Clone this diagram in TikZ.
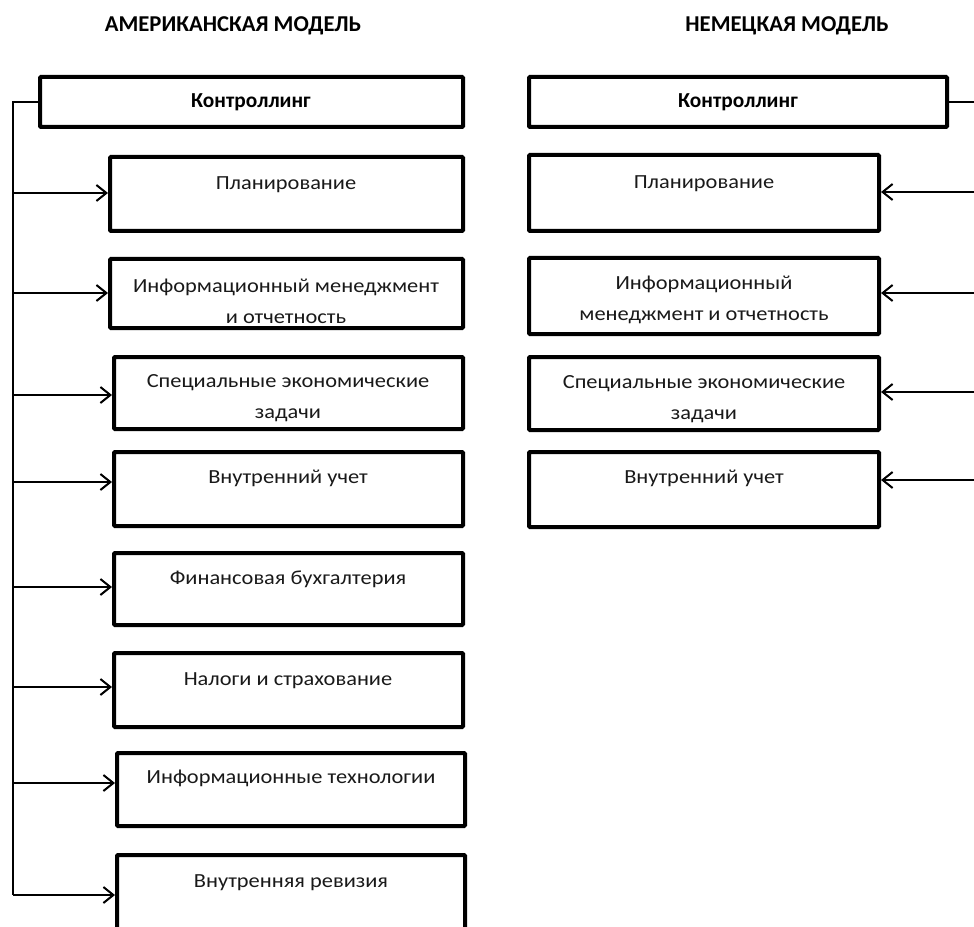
\documentclass[tikz,border=0pt]{standalone}
\usepackage{fontspec}
\setmainfont{Carlito}[FakeStretch=1.12]
\newfontfamily\hdrfont{Carlito}
\usetikzlibrary{arrows.meta,fit}
\begin{document}
\begin{tikzpicture}[x=0.75pt,y=-0.75pt,
  box/.style={draw, line width=3pt, inner sep=0pt, rounded corners=0.8pt},
  txt/.style={font=\fontsize{15}{23}\selectfont, align=center, inner sep=0pt, text=black!90},
  hdr/.style={font=\hdrfont\bfseries\fontsize{17}{20}\selectfont, inner sep=0pt},
  kt/.style={font=\hdrfont\bfseries\fontsize{16}{19}\selectfont, inner sep=0pt},
  conn/.style={line width=1.5pt},
  arr/.style={conn, -{Straight Barb[length=7.5pt,width=12pt,line width=1.5pt]}}
]
\useasboundingbox (0,0) rectangle (974,927);

% headers
\node[hdr] (hA) at (233,26) {АМЕРИКАНСКАЯ МОДЕЛЬ};
\node[hdr] (hN) at (787,26) {НЕМЕЦКАЯ МОДЕЛЬ};

% ---------- American model ----------
\node[box, fit={(40,77) (463,127)}] (AK) {};
\node[kt] (tAK) at (251,102) {Контроллинг};

\node[box, fit={(110,157) (463,231)}] (P1) {};
\node[txt] (tP1) at (286,185) {Планирование};

\node[box, fit={(110,259) (463,328)}] (P2) {};
\node[txt] (tP2) at (286,301) {Информационный менеджмент\\и отчетность};

\node[box, fit={(114,357) (463,429)}] (P3) {};
\node[txt] (tP3) at (288,398) {Специальные экономические\\задачи};

\node[box, fit={(114,452) (463,526)}] (P4) {};
\node[txt] (tP4) at (288,478) {Внутренний учет};

\node[box, fit={(114,553) (463,625)}] (P5) {};
\node[txt] (tP5) at (288,579) {Финансовая бухгалтерия};

\node[box, fit={(114,653) (463,727)}] (P6) {};
\node[txt] (tP6) at (288,681) {Налоги и страхование};

\node[box, fit={(117,753) (465,826)}] (P7) {};
\node[txt] (tP7) at (291,778) {Информационные технологии};

\node[box, fit={(117,855) (465,931)}] (P8) {};
\node[txt] (tP8) at (291,883) {Внутренняя ревизия};

\coordinate (tb) at (13,895);
\draw[conn] (AK.west) -| (tb);
\foreach \n/\yy in {P1/193,P2/293,P3/395,P4/482,P5/587,P6/687,P7/783,P8/895}{
  \coordinate (a\n) at (13,\yy);
  \draw[arr] (a\n) -- (a\n -| \n.west);
}

% ---------- German model ----------
\node[box, fit={(529,77) (947,127)}] (GK) {};
\node[kt] (tGK) at (738,102) {Контроллинг};

\node[box, fit={(529,155) (879,231)}] (R1) {};
\node[txt] (tR1) at (704,184) {Планирование};

\node[box, fit={(529,258) (879,334)}] (R2) {};
\node[txt] (tR2) at (704,300) {Информационный\\менеджмент и отчетность};

\node[box, fit={(529,357) (879,430)}] (R3) {};
\node[txt] (tR3) at (704,399) {Специальные экономические\\задачи};

\node[box, fit={(529,452) (879,527)}] (R4) {};
\node[txt] (tR4) at (704,478) {Внутренний учет};

\coordinate (rb) at (978,480);
\draw[conn] (GK.east) -| (rb);
\foreach \n/\yy in {R1/192,R2/293,R3/392,R4/480}{
  \coordinate (b\n) at (978,\yy);
  \draw[arr] (b\n) -- (b\n -| \n.east);
}
\end{tikzpicture}
\end{document}
